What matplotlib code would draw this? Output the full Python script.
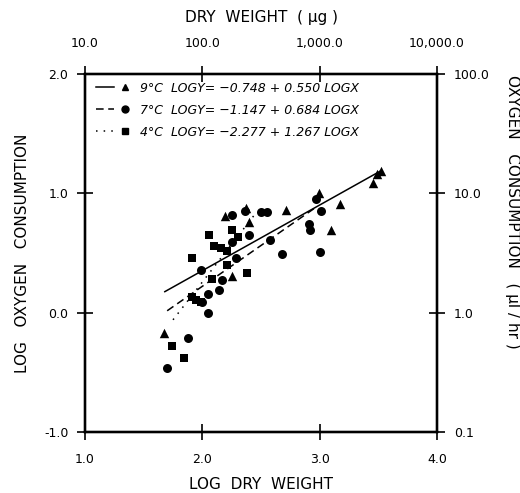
import numpy as np
import matplotlib
matplotlib.use("Agg")
import matplotlib.pyplot as plt
from matplotlib.lines import Line2D
from matplotlib.legend_handler import HandlerTuple

# log dry weight / log oxygen consumption
x9 = [1.67, 2.25, 2.19, 2.37, 2.40, 2.71, 2.99, 3.17, 3.10, 3.45, 3.49, 3.52]
y9 = [-0.17, 0.31, 0.81, 0.88, 0.76, 0.86, 1.00, 0.91, 0.69, 1.09, 1.16, 1.19]

x7 = [1.70, 1.88, 2.05, 2.05, 2.14, 2.17, 1.985, 2.00, 2.25, 2.29, 2.25, 2.36,
      2.40, 2.50, 2.55, 2.58, 2.68, 2.91, 2.92, 2.97, 3.01, 3.00]
y7 = [-0.46, -0.21, 0.00, 0.16, 0.19, 0.27, 0.36, 0.09, 0.59, 0.46, 0.82, 0.85,
      0.65, 0.84, 0.845, 0.61, 0.49, 0.74, 0.69, 0.95, 0.85, 0.51]

x4 = [1.74, 1.84, 1.91, 1.95, 1.99, 2.08, 2.21, 2.38, 1.91, 2.06, 2.10, 2.16,
      2.21, 2.25, 2.30]
y4 = [-0.28, -0.38, 0.13, 0.11, 0.09, 0.28, 0.40, 0.33, 0.46, 0.65, 0.56, 0.54,
      0.52, 0.69, 0.63]

# regression lines (intercept, slope, x range)
fits = {
    "9": (-0.748, 0.550, 1.68, 3.52),
    "7": (-1.147, 0.684, 1.70, 2.98),
    "4": (-2.277, 1.267, 1.75, 2.45),
}
labels = {
    "9": "9°C  LOGY= −0.748 + 0.550 LOGX",
    "7": "7°C  LOGY= −1.147 + 0.684 LOGX",
    "4": "4°C  LOGY= −2.277 + 1.267 LOGX",
}

bottom_ticks = [1.0, 2.0, 3.0, 4.0]
bottom_labels = ["1.0", "2.0", "3.0", "4.0"]
top_labels = ["10.0", "100.0", "1,000.0", "10,000.0"]
left_ticks = [-1.0, 0.0, 1.0, 2.0]
left_labels = ["-1.0", "0.0", "1.0", "2.0"]
right_labels = ["0.1", "1.0", "10.0", "100.0"]

plt.rcParams['font.family'] = ['DejaVu Sans']

fig = plt.figure(figsize=(5.2, 4.93), dpi=100)
ax = fig.add_axes([0.1635, 0.1237, 0.677, 0.7263])

ax.scatter(x9, y9, marker="^", s=46, color="black", linewidths=0, zorder=3)
ax.scatter(x7, y7, marker="o", s=42, color="black", linewidths=0, zorder=3)
ax.scatter(x4, y4, marker="s", s=38, color="black", linewidths=0, zorder=3)

styles = {"9": "-", "7": (0, (5, 3)), "4": (0, (1, 4))}
for k, (a, b, x0, x1) in fits.items():
    xx = np.linspace(x0, x1, 50)
    ax.plot(xx, a + b * xx, color="black", lw=1.1, linestyle=styles[k], zorder=2)

ax.set_xlim(1, 4)
ax.set_ylim(-1, 2)
ax.set_xticks(bottom_ticks)
ax.set_xticklabels(bottom_labels)
ax.set_yticks(left_ticks)
ax.set_yticklabels(left_labels)
ax.tick_params(direction="inout", length=12, width=1.2, labelsize=9, pad=6)
ax.tick_params(axis="x", pad=9)
ax.set_xlabel("LOG  DRY  WEIGHT", fontsize=11, labelpad=8)
ax.set_ylabel("LOG   OXYGEN   CONSUMPTION", fontsize=11, labelpad=10)

axr = ax.twinx()
axr.set_ylim(-1, 2)
axr.set_yticks(left_ticks)
axr.set_yticklabels(right_labels)
axr.tick_params(direction="inout", length=12, width=1.2, labelsize=9, pad=6)
axr.set_ylabel("OXYGEN   CONSUMPTION   ( \u03bcl / hr )", fontsize=11,
               rotation=-90, va="center")
axr.yaxis.set_label_coords(1.213, 0.614)

axt = ax.twiny()
axt.set_xlim(1, 4)
axt.set_xticks(bottom_ticks)
axt.set_xticklabels(top_labels)
axt.tick_params(direction="inout", length=12, width=1.2, labelsize=9, pad=11)
axt.set_xlabel("DRY  WEIGHT  ( \u03bcg )", fontsize=11, labelpad=11)

for a in (ax, axr, axt):
    for sp in a.spines.values():
        sp.set_linewidth(1.6)

handles = []
for k, m in zip(["9", "7", "4"], ["^", "o", "s"]):
    ln = Line2D([], [], color="black", lw=1.1, linestyle=styles[k])
    mk = Line2D([], [], color="black", marker=m, markersize=5, linestyle="none")
    handles.append((ln, mk))
leg = ax.legend(handles, [labels[k] for k in ["9", "7", "4"]],
                handler_map={tuple: HandlerTuple(ndivide=None, pad=0.2)},
                loc="upper left", bbox_to_anchor=(0.0, 1.01), frameon=False,
                handlelength=3.0, handletextpad=0.5, labelspacing=0.72,
                prop={"size": 9, "style": "italic"})

fig.savefig("out.png", dpi=100)
